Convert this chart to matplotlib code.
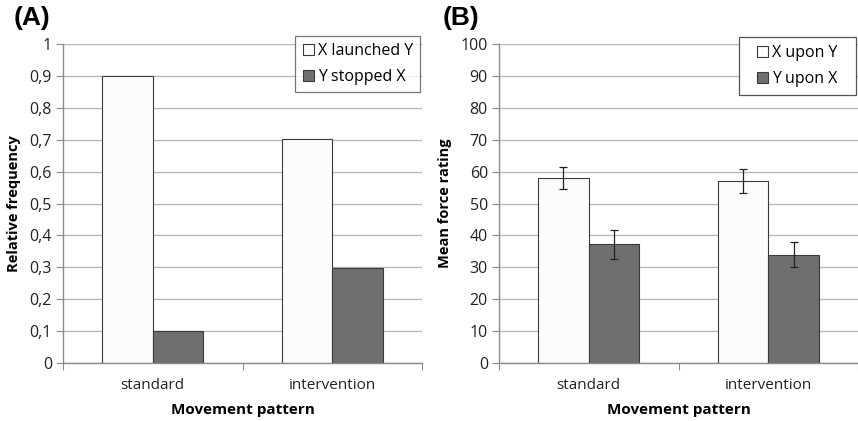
import matplotlib
matplotlib.use("Agg")
import matplotlib.pyplot as plt
import numpy as np
from matplotlib.ticker import FuncFormatter, FixedLocator
from matplotlib.patches import Rectangle

categories = ["standard", "intervention"]
a_launched = [0.90, 0.703]
a_stopped = [0.10, 0.297]
b_xupon = [58.0, 57.0]
b_yupon = [37.2, 34.0]
b_xupon_err = [3.5, 3.75]
b_yupon_err = [4.5, 4.0]

plt.rcParams['font.family'] = ['Open Sans', 'DejaVu Sans']
W, H = 858, 421
fig = plt.figure(figsize=(W/100, H/100), dpi=100)

light = "#fcfcfc"
dark = "#6f6f6f"
edge = "#3a3a3a"
gridc = "#b8b8b8"

def make_ax(left, right, top=44, bottom=363):
    return fig.add_axes([left/W, 1-bottom/H, (right-left)/W, (bottom-top)/H])

def style(ax):
    ax.set_xlim(0, 2)
    for s in ["top", "right"]:
        ax.spines[s].set_visible(False)
    for s in ["left", "bottom"]:
        ax.spines[s].set_color("#8a8a8a")
        ax.spines[s].set_linewidth(1.0)
    ax.yaxis.grid(True, color=gridc, linewidth=1.0)
    ax.set_axisbelow(True)
    ax.xaxis.set_major_locator(FixedLocator([0, 1, 2]))
    ax.xaxis.set_minor_locator(FixedLocator([0.5, 1.5]))
    ax.set_xticklabels([])
    ax.set_xticklabels(categories, minor=True)
    ax.tick_params(axis="x", which="major", length=5, color="#8a8a8a")
    ax.tick_params(axis="x", which="minor", length=0, labelsize=11, pad=11, labelcolor="#222222")
    ax.tick_params(axis="y", length=5, color="#8a8a8a", labelsize=11.5, labelcolor="#222222", pad=3)
    ax.set_xlabel("Movement pattern", fontsize=11, fontweight="bold", labelpad=7)

x = np.arange(len(categories)) + 0.5
bw = 0.282

# Panel A
axA = make_ax(63, 422)
style(axA)
axA.bar(x - bw/2, a_launched, bw, color=light, edgecolor=edge, linewidth=0.8, label="X launched Y")
axA.bar(x + bw/2, a_stopped, bw, color=dark, edgecolor=edge, linewidth=0.8, label="Y stopped X")
axA.set_ylim(0, 1)
axA.set_yticks(np.arange(0, 1.01, 0.1))
axA.yaxis.set_major_formatter(FuncFormatter(lambda v, p: ("%g" % round(v, 1)).replace(".", ",")))
axA.set_ylabel("Relative frequency", fontsize=10.5, fontweight="bold", labelpad=6)
legA = axA.legend(loc="upper right", bbox_to_anchor=(357/359, 1.025), fontsize=11.5, frameon=True,
                  fancybox=False, edgecolor="#555555", handlelength=0.7, handleheight=0.7,
                  handletextpad=0.25, labelspacing=0.6, borderpad=0.45, borderaxespad=0)
legA.get_frame().set_linewidth(0.9)
fig.text(14/W, 1-18/H, "(A)", fontsize=19, fontweight="bold", va="center", ha="left",
         family=["Liberation Sans", "DejaVu Sans"])

# Panel B
axB = make_ax(499, 858)
style(axB)
axB.bar(x - bw/2, b_xupon, bw, color=light, edgecolor=edge, linewidth=0.8, label="X upon Y",
        yerr=b_xupon_err, error_kw=dict(ecolor="#222222", elinewidth=0.9, capsize=3, capthick=0.9))
axB.bar(x + bw/2, b_yupon, bw, color=dark, edgecolor=edge, linewidth=0.8, label="Y upon X",
        yerr=b_yupon_err, error_kw=dict(ecolor="#222222", elinewidth=0.9, capsize=3, capthick=0.9))
axB.set_ylim(0, 100)
axB.set_yticks(np.arange(0, 101, 10))
axB.set_ylabel("Mean force rating", fontsize=10.5, fontweight="bold", labelpad=6)
# legend box (wider frame as in the original)
bx0, bx1, by0, by1 = 739, 856, 37, 95
axB.add_patch(Rectangle((bx0/W, 1-by1/H), (bx1-bx0)/W, (by1-by0)/H, transform=fig.transFigure,
                        facecolor="white", edgecolor="#555555", linewidth=0.9, zorder=5,
                        clip_on=False))
legB = axB.legend(loc="center", bbox_to_anchor=(((bx0+bx1)/2)/W, 1-((by0+by1)/2)/H),
                  bbox_transform=fig.transFigure, fontsize=11.5, frameon=False,
                  handlelength=0.7, handleheight=0.7,
                  handletextpad=0.25, labelspacing=0.6, borderpad=0.45, borderaxespad=0)
legB.set_zorder(6)
fig.text(443/W, 1-18/H, "(B)", fontsize=19, fontweight="bold", va="center", ha="left",
         family=["Liberation Sans", "DejaVu Sans"])

fig.savefig("out.png", dpi=100, facecolor="white")
